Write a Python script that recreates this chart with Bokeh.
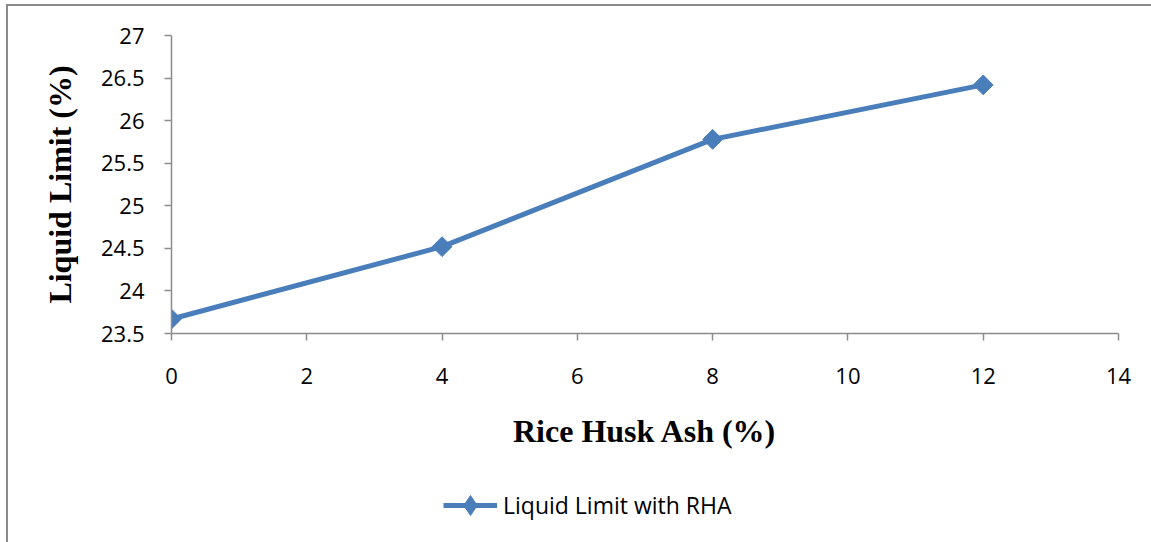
import math
from bokeh.plotting import figure
from bokeh.layouts import column
from bokeh.models import Legend, LegendItem, FixedTicker
from bokeh.embed import file_html
from bokeh.resources import INLINE

# Liquid limit of soil blended with rice husk ash
rha_percent = [0, 4, 8, 12]
liquid_limit = [23.67, 24.52, 25.78, 26.42]
series_name = "Liquid Limit with RHA"

x_ticks = [0, 2, 4, 6, 8, 10, 12, 14]
y_ticks = [23.5, 24, 24.5, 25, 25.5, 26, 26.5, 27]
y_tick_labels = ["23.5", "24", "24.5", "25", "25.5", "26", "26.5", "27"]

BLUE = "#4a7ebb"
AXIS_GREY = "#8c8c8c"
FRAME_GREY = "#8a8a8a"
LINE_W = 5
MARK_SIZE = 14

p = figure(
    width=1151, height=473,
    x_range=(0, 14), y_range=(23.5, 27),
    output_backend="svg", toolbar_location=None,
    min_border_left=163, min_border_right=41,
    min_border_top=29, min_border_bottom=146,
)
p.outline_line_color = None
p.xgrid.visible = False
p.ygrid.visible = False

p.line(rha_percent, liquid_limit, line_color=BLUE, line_width=LINE_W)
p.scatter(rha_percent, liquid_limit, marker="square", size=MARK_SIZE,
          angle=math.pi / 4, fill_color=BLUE, line_color=BLUE)

for ax in (p.xaxis[0], p.yaxis[0]):
    ax.axis_line_color = AXIS_GREY
    ax.axis_line_width = 1.5
    ax.major_tick_line_color = AXIS_GREY
    ax.major_tick_line_width = 1.5
    ax.major_tick_in = 0
    ax.major_tick_out = 7
    ax.minor_tick_line_color = None
    ax.major_label_text_font = "Open Sans"
    ax.major_label_text_font_size = "22px"
    ax.major_label_text_color = "black"
    ax.axis_label_text_font = "Liberation Serif"
    ax.axis_label_text_font_style = "bold"
    ax.axis_label_text_font_size = "32px"
    ax.axis_label_text_color = "black"

p.xaxis.ticker = FixedTicker(ticks=x_ticks)
p.yaxis.ticker = FixedTicker(ticks=y_ticks)
p.yaxis.major_label_overrides = {t: s for t, s in zip(y_ticks, y_tick_labels)}
p.xaxis.major_label_standoff = 27
p.yaxis.major_label_standoff = 20
p.xaxis.axis_label = "Rice Husk Ash (%)"
p.yaxis.axis_label = "Liquid Limit (%)"
p.xaxis.axis_label_standoff = 26
p.yaxis.axis_label_standoff = 20

# legend strip under the chart; its series share the chart's style but
# stay outside this strip's ranges, so only the legend key shows
key = figure(
    width=1151, height=69, output_backend="svg", toolbar_location=None,
    x_axis_location=None, y_axis_location=None,
    min_border=0, x_range=(100, 101), y_range=(0, 1),
)
key.outline_line_color = None
key.xgrid.visible = False
key.ygrid.visible = False
key_line = key.line(rha_percent, liquid_limit, line_color=BLUE, line_width=LINE_W)
key_mark = key.scatter(rha_percent, liquid_limit, marker="diamond", size=MARK_SIZE,
                       fill_color=BLUE, line_color=BLUE)
legend = Legend(
    items=[LegendItem(label=series_name, renderers=[key_line, key_mark])],
    location=(272, 18),
    orientation="horizontal",
    padding=0, margin=0, spacing=0,
    glyph_width=54, glyph_height=50, label_standoff=6,
    label_text_font="Open Sans", label_text_font_size="23px",
    label_text_color="black",
    border_line_color=None, background_fill_alpha=0,
)
key.add_layout(legend, "center")

page = column(
    p, key, spacing=0,
    styles={"margin-left": "6px", "margin-top": "4px",
            "border-left": f"2px solid {FRAME_GREY}",
            "border-top": f"2px solid {FRAME_GREY}"},
)

open("out.html", "w").write(file_html(page, INLINE))
